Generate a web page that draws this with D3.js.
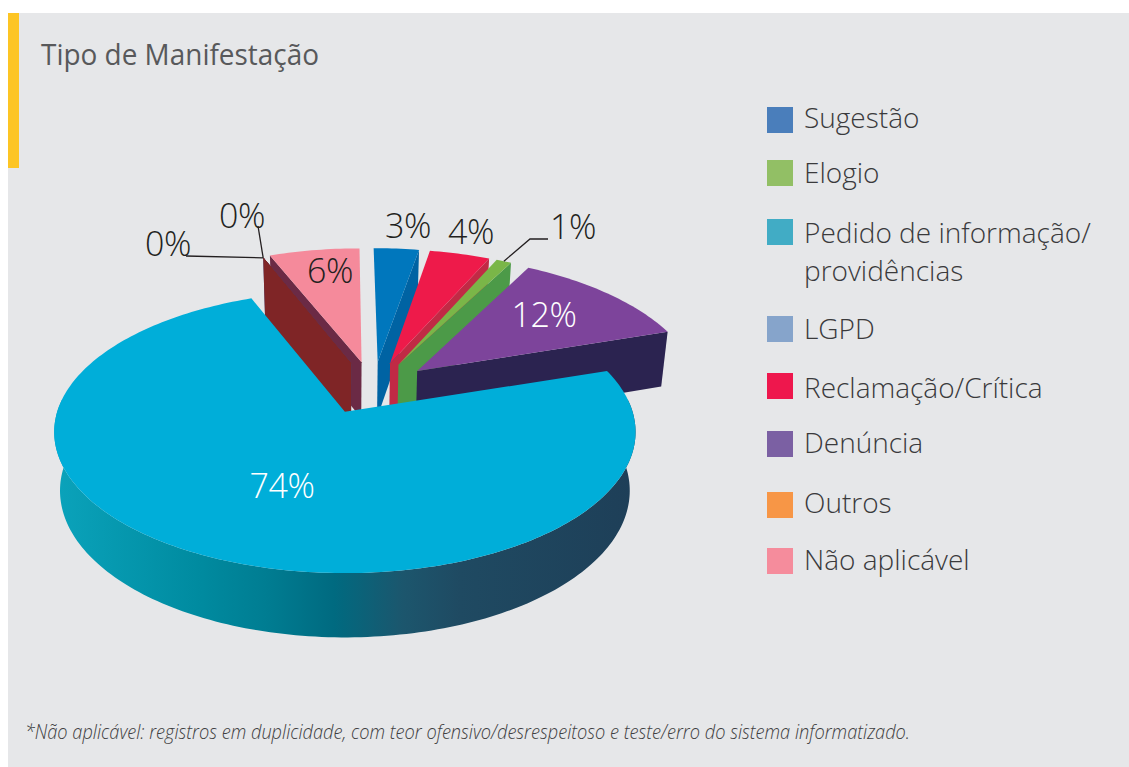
<!DOCTYPE html>
<html><head><meta charset="utf-8">
<script src="https://cdn.jsdelivr.net/npm/d3@7"></script>
<style>html,body{margin:0;padding:0;background:#fff}svg{display:block}text{font-family:"Open Sans",sans-serif}</style>
</head><body><svg id="c" width="1129" height="767"></svg>
<script>
const categories = ["Sugestão","Elogio","Pedido de informação/\nprovidências","LGPD","Reclamação/Crítica","Denúncia","Outros","Não aplicável"];
const values = [3,1,74,0,4,12,0,6];
const clockwiseOrder = [0,4,1,5,2,3,6,7];
const legendColors = ["#4a7ebb","#92bf65","#41acc5","#86a4cb","#ee174d","#7b60a3","#f79646","#f58c9c"];
const topColors = ["#0077bd","#7ab648","#00aed9","#3b4a86","#ee1a4a","#7d449b","#7f2526","#f58a9b"];
const wallColors = ["#0063a3","#4c9a48","#00aed9","#3b4a86","#c12a45","#2b2350","#7f2526","#6b2a45"];
const title = "Tipo de Manifestação";
const footnote = "*Não aplicável: registros em duplicidade, com teor ofensivo/desrespeitoso e teste/erro do sistema informatizado.";

const svg = d3.select("#c");
svg.append("rect").attr("x",8).attr("y",13).attr("width",1121).attr("height",754).attr("fill","#e6e7e9");
svg.append("rect").attr("x",8).attr("y",13).attr("width",11).attr("height",155).attr("fill","#fdc524");
svg.append("text").attr("x",41).attr("y",65).attr("font-size",30).attr("fill","#58595b")
  .attr("textLength",278).attr("lengthAdjust","spacingAndGlyphs").text(title);

// 3D projection of the pie disc
const cx=345, cy=414.5, rx=288.5, ry=139, k=0.143, depth=58, shrink=0.02;
const originU=0.089, originV=0.2, explodeU=0.21, explodeV=0.2, smallShiftU=0.011;
function project(u,v,z){
  const w=1+k*v, s=1-shrink*z;
  return [cx+rx*s*u/w, cy+(-ry*s*v+depth*z)/w];
}
const pie=d3.pie().sort(null).value(d=>d.value);
const rows=clockwiseOrder.map(i=>({i,value:values[i]}));
const arcs=pie(rows);
arcs.forEach(a=>{
  const mid=(a.startAngle+a.endAngle)/2;
  const big=a.data.i===2, zero=a.data.value===0;
  const ru=big?1:(zero?0.98:1.01), rv=big?1:(zero?1.03:1.045);
  a.ou=originU+explodeU*Math.sin(mid)+(big?0:smallShiftU);
  a.ov=originV+explodeV*Math.cos(mid);
  a.pt=(ang,z)=>project(a.ou+ru*Math.sin(ang),a.ov+rv*Math.cos(ang),z);
  a.apex=z=>project(a.ou,a.ov,z);
  const n=Math.max(2,Math.ceil((a.endAngle-a.startAngle)/0.02));
  a.samples=d3.range(n+1).map(j=>a.startAngle+(a.endAngle-a.startAngle)*j/n);
});
const line=d3.line().curve(d3.curveLinear);
const defs=svg.append("defs");
const grad=defs.append("linearGradient").attr("id","wall").attr("gradientUnits","userSpaceOnUse")
  .attr("x1",60).attr("x2",632).attr("y1",0).attr("y2",0);
[[0,"#0aa2ba"],[0.24,"#008ba0"],[0.36,"#007d92"],[0.48,"#006a80"],[0.6,"#1c566d"],[0.7,"#1f4a62"],[1,"#1e3f58"]]
  .forEach(s=>grad.append("stop").attr("offset",s[0]).attr("stop-color",s[1]));

const byI=i=>arcs.find(a=>a.data.i===i);
const drawOrder=[7,3,6,0,4,1,5,2];
const g=svg.append("g");
drawOrder.forEach(i=>{
  const a=byI(i), wc=wallColors[i], tc=topColors[i];
  const front=a.samples.filter(t=>Math.cos(t)<0.1);
  if(front.length>1){
    const outer=front.map(t=>a.pt(t,0)).concat(front.slice().reverse().map(t=>a.pt(t,1)));
    g.append("path").attr("d",line(outer)+"Z").attr("fill",i===2?"url(#wall)":wc);
  }
  const zWall=a.data.value===0?1.3:1;
  const face=ang=>[a.apex(0),a.pt(ang,0),a.pt(ang,zWall),a.apex(1)];
  if(Math.sin(a.startAngle)<0) g.append("path").attr("d",line(face(a.startAngle))+"Z").attr("fill",wc);
  if(Math.sin(a.endAngle)>0 && i!==2) g.append("path").attr("d",line(face(a.endAngle))+"Z").attr("fill",wc);
  const top=[a.apex(0)].concat(a.samples.map(t=>a.pt(t,0)));
  g.append("path").attr("d",line(top)+"Z").attr("fill",tc)
    .attr("stroke",a.data.value===0?tc:"none").attr("stroke-width",a.data.value===0?1:0);
});

// leaders end on the slices they point at
const zeroEnd=byI(6).pt(byI(6).startAngle,0);
const elogio=byI(1);
const elogioEnd=elogio.pt((elogio.startAngle+elogio.endAngle)/2,0);
const leaders=[[elogioEnd,[530,239],[548,239]],[[186,256],zeroEnd],[[258,226],zeroEnd]];
leaders.forEach(l=>svg.append("path").attr("d",line(l)).attr("fill","none").attr("stroke","#231f20").attr("stroke-width",1.3));

// value labels
const labelPos={0:[408,238],4:[471,244],1:[573,239],5:[544,327],2:[282,498],3:[242,228],6:[168,256],7:[330,283]};
const white=new Set([5,2]);
values.forEach((v,i)=>{
  svg.append("text").attr("x",labelPos[i][0]).attr("y",labelPos[i][1]).attr("text-anchor","middle")
    .attr("font-size",34).attr("font-weight",300).attr("letter-spacing",-0.4).attr("fill",white.has(i)?"#fff":"#231f20").text(v+"%");
});

// legend
const swatchY=[107,160,219,316,373,431,492,548];
const baselineY=[128,183,243,339,398,453,513,570];
categories.forEach((c,i)=>{
  svg.append("rect").attr("x",767).attr("y",swatchY[i]).attr("width",26).attr("height",26).attr("fill",legendColors[i]);
  c.split("\n").forEach((t,j)=>svg.append("text").attr("x",804).attr("y",baselineY[i]+j*38)
    .attr("font-size",28).attr("font-weight",300).attr("fill","#3a3a3c").text(t));
});
svg.append("text").attr("x",25).attr("y",739).attr("font-size",20).attr("font-style","italic").attr("font-weight",300)
  .attr("fill","#404041").attr("textLength",885).attr("lengthAdjust","spacingAndGlyphs").text(footnote);
</script></body></html>
